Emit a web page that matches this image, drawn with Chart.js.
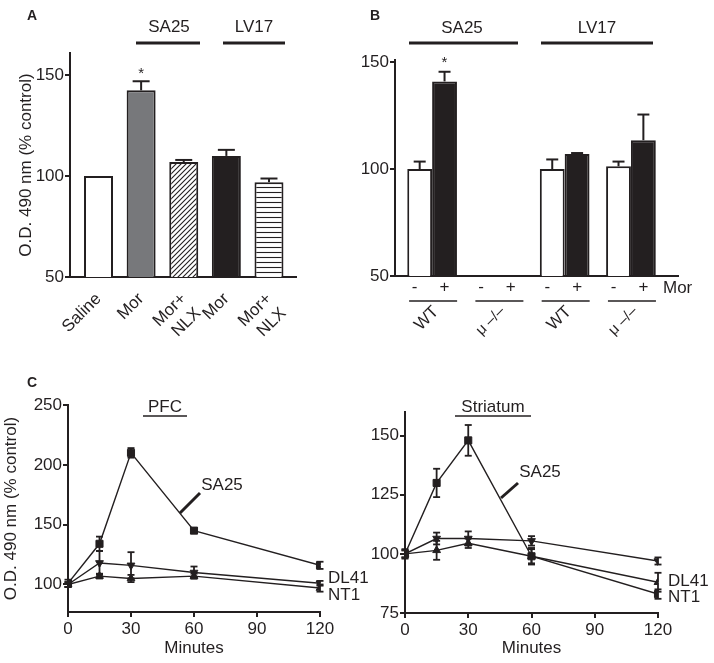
<!DOCTYPE html>
<html>
<head>
<meta charset="utf-8">
<script src="https://cdn.jsdelivr.net/npm/chart.js@4.4.0/dist/chart.umd.min.js"></script>
<style>
  html, body { margin: 0; padding: 0; background: #fff; }
  #wrap { position: relative; width: 714px; height: 663px; overflow: hidden; }
  canvas { position: absolute; }
</style>
</head>
<body>
<div id="wrap">
  <canvas id="chartA" width="360" height="345" style="left:0;top:0"></canvas>
  <canvas id="chartB" width="354" height="345" style="left:360px;top:0"></canvas>
  <canvas id="chartPfc" width="372" height="293" style="left:0;top:370px"></canvas>
  <canvas id="chartStr" width="354" height="293" style="left:360px;top:370px"></canvas>
</div>
<script>
"use strict";

// ---- data ----
// A: O.D. 490 nm (% control)
const aLabels = ['Saline', 'Mor', ['Mor+', 'NLX'], 'Mor', ['Mor+', 'NLX']];
const aPositions = [1, 2, 3, 4, 5];
const aValues = [100, 142.5, 107, 110, 97];
const aErrors = [0, 4.5, 1, 3, 1.8];
const aTicks = [50, 100, 150];

// B: pairs WT / mu-/- for SA25 and LV17, without (-) and with (+) morphine
const bGroups = [1, 2, 3, 4];
const bGenotypes = ['WT', 'μ –/–', 'WT', 'μ –/–'];
const bNoMor = [100, null, 100, 101.3];
const bNoMorErr = [3.5, null, 4.5, 2.2];
const bMor = [141, null, 107, 113.5];
const bMorErr = [4.5, null, 0.5, 12];
const bTicks = [50, 100, 150];

// C: time courses
const minutes = [0, 15, 30, 60, 120];
const minuteTicks = [0, 30, 60, 90, 120];
const pfcSA25 = [101, 134, 210, 145, 116];
const pfcSA25Err = [3, 6, 4, 2, 3];
const pfcDL41 = [100, 118, 116, 110, 101];
const pfcDL41Err = [2, 10, 11, 5, 2];
const pfcNT1 = [100, 107, 105, 107, 97];
const pfcNT1Err = [2, 2, 3, 2, 3];
const pfcTicks = [100, 150, 200, 250];

const strSA25 = [100, 130, 148, 99, 83];
const strSA25Err = [2, 6, 6.5, 3.5, 2];
const strDL41 = [100, 106.5, 106.5, 105.5, 97];
const strDL41Err = [1.5, 2.5, 3, 2, 1.5];
const strNT1 = [100, 101.5, 104.5, 99, 88];
const strNT1Err = [1.5, 4, 2, 3, 4];
const strTicks = [75, 100, 125, 150];

// ---- look ----
const INK = '#231f20';
const FONT = "'Liberation Sans', Arial, Helvetica, sans-serif";

Chart.defaults.font.family = FONT;
Chart.defaults.font.size = 17;
Chart.defaults.color = INK;
Chart.defaults.animation = false;
Chart.defaults.plugins.legend.display = false;
Chart.defaults.plugins.tooltip.enabled = false;

function fixWidth(w) { return (scale) => { scale.width = w; }; }
function fixHeight(h) { return (scale) => { scale.height = h; }; }
function useTicks(values) { return (scale) => { scale.ticks = values.map(v => ({ value: v })); }; }

function label(ctx, str, x, y, align, size, bold) {
    ctx.font = (bold ? 'bold ' : '') + (size || 17) + 'px ' + FONT;
    ctx.fillStyle = INK;
    ctx.textAlign = align || 'center';
    ctx.textBaseline = 'middle';
    ctx.fillText(str, x, y);
}

function rule(ctx, x1, y1, x2, y2, w) {
    ctx.strokeStyle = INK;
    ctx.lineWidth = w;
    ctx.lineCap = 'butt';
    ctx.beginPath();
    ctx.moveTo(x1, y1);
    ctx.lineTo(x2, y2);
    ctx.stroke();
}

function whisker(ctx, x, from, to, cap, w) {
    rule(ctx, x, from, x, to, w);
    rule(ctx, x - cap / 2, to, x + cap / 2, to, w);
}

function hatch(canvasId, kind) {
    const c = document.createElement('canvas');
    const s = 5;
    c.width = s; c.height = s;
    const g = c.getContext('2d');
    g.fillStyle = '#fff';
    g.fillRect(0, 0, s, s);
    g.strokeStyle = INK;
    g.lineWidth = 1.1;
    g.beginPath();
    if (kind === 'diag') {
        g.moveTo(-1, s + 1); g.lineTo(s + 1, -1);
        g.moveTo(-2, 2); g.lineTo(2, -2);
        g.moveTo(s - 2, s + 2); g.lineTo(s + 2, s - 2);
    } else {
        g.moveTo(0, 2.5); g.lineTo(s, 2.5);
    }
    g.stroke();
    return document.getElementById(canvasId).getContext('2d').createPattern(c, 'repeat');
}

// y axis with outward tick marks
function valueAxis(min, max, ticks, width, title, titlePad) {
    return {
        min: min, max: max,
        afterBuildTicks: useTicks(ticks),
        afterFit: fixWidth(width),
        border: { display: true, color: INK, width: 2 },
        grid: { display: true, drawOnChartArea: false, drawTicks: true, tickLength: 5, color: INK, lineWidth: 2 },
        ticks: { padding: 1, color: INK },
        title: { display: !!title, text: title, color: INK, font: { size: 17 }, padding: { top: titlePad || 0 } }
    };
}

// ---- A ----
const aNotes = {
    id: 'aNotes',
    afterDatasetsDraw(chart) {
        const ctx = chart.ctx, y = chart.scales.y;
        chart.getDatasetMeta(0).data.forEach((bar, i) => {
            if (!aErrors[i]) return;
            const top = y.getPixelForValue(aValues[i] + aErrors[i]);
            whisker(ctx, bar.x, bar.y, top, 17, 2);
            if (i === 1) label(ctx, '*', bar.x, top - 7, 'center', 15);
        });
    },
    afterDraw(chart) {
        const ctx = chart.ctx;
        label(ctx, 'A', 27, 16, 'left', 14, true);
        label(ctx, 'SA25', 169, 27);
        rule(ctx, 136, 43, 200, 43, 3);
        label(ctx, 'LV17', 254, 27);
        rule(ctx, 223, 43, 285, 43, 3);
    }
};

new Chart(document.getElementById('chartA'), {
    type: 'bar',
    data: {
        datasets: [{
            data: aPositions.map((p, i) => ({ x: p, y: aValues[i] })),
            backgroundColor: ['#fff', '#77787b', hatch('chartA', 'diag'), INK, hatch('chartA', 'horiz')],
            borderColor: INK,
            borderWidth: 2,
            categoryPercentage: 0.68,
            barPercentage: 1
        }]
    },
    options: {
        responsive: false,
        devicePixelRatio: 1,
        layout: { padding: { top: 53, right: 64, left: 0, bottom: 0 } },
        scales: {
            x: {
                type: 'linear', min: 0.331, max: 5.634, offset: false,
                afterBuildTicks: useTicks(aPositions),
                afterFit: fixHeight(68),
                grid: { display: false },
                border: { display: true, color: INK, width: 2 },
                ticks: {
                    autoSkip: false, minRotation: 45, maxRotation: 45, padding: 4, color: INK,
                    callback: (v, i) => aLabels[i]
                }
            },
            y: valueAxis(50, 161, aTicks, 70, 'O.D. 490 nm (% control)', 16)
        }
    },
    plugins: [aNotes]
});

// ---- B ----
const bNotes = {
    id: 'bNotes',
    afterDatasetsDraw(chart) {
        const ctx = chart.ctx, y = chart.scales.y;
        [[bNoMor, bNoMorErr], [bMor, bMorErr]].forEach(([vals, errs], d) => {
            chart.getDatasetMeta(d).data.forEach((bar, i) => {
                if (vals[i] === null) return;
                const top = y.getPixelForValue(vals[i] + errs[i]);
                whisker(ctx, bar.x, bar.y, top, 12, 2);
                if (d === 1 && i === 0) label(ctx, '*', bar.x, top - 9, 'center', 15);
            });
        });
    },
    afterDraw(chart) {
        const ctx = chart.ctx, x = chart.scales.x;
        const ref = chart.getDatasetMeta(0).data[0];
        const half = ref.width / 2;
        bGroups.forEach((g, i) => {
            const c = x.getPixelForValue(g);
            label(ctx, '-', c - half - 5, 287);
            label(ctx, '+', c + half, 287);
            rule(ctx, c - 23, 301, c + 25, 301, 1.5);
            ctx.save();
            ctx.translate(c + 4, 309);
            ctx.rotate(-Math.PI / 4);
            label(ctx, bGenotypes[i], 0, 0, 'right', i % 2 ? 15 : 17);
            ctx.restore();
        });
        ctx.save();
        ctx.translate(-360, 0);
        label(ctx, 'Mor', 663, 288, 'left');
        label(ctx, 'B', 370, 16, 'left', 14, true);
        label(ctx, 'SA25', 462, 28);
        rule(ctx, 409, 43, 518, 43, 3);
        label(ctx, 'LV17', 597, 28);
        rule(ctx, 541, 43, 653, 43, 3);
        ctx.restore();
    }
};

new Chart(document.getElementById('chartB'), {
    type: 'bar',
    data: {
        datasets: [
            {
                data: bGroups.map((g, i) => ({ x: g, y: bNoMor[i] })),
                backgroundColor: '#fff', borderColor: INK, borderWidth: 2,
                categoryPercentage: 0.75, barPercentage: 1
            },
            {
                data: bGroups.map((g, i) => ({ x: g, y: bMor[i] })),
                backgroundColor: INK, borderColor: INK, borderWidth: 2,
                categoryPercentage: 0.75, barPercentage: 1
            }
        ]
    },
    options: {
        responsive: false,
        devicePixelRatio: 1,
        layout: { padding: { top: 60, right: 36, left: 0, bottom: 0 } },
        scales: {
            x: {
                type: 'linear', min: 0.44, max: 4.71, offset: false,
                afterBuildTicks: useTicks(bGroups),
                afterFit: fixHeight(69),
                grid: { display: false },
                border: { display: true, color: INK, width: 2 },
                ticks: { display: false }
            },
            y: valueAxis(50, 151, bTicks, 35)
        }
    },
    plugins: [bNotes]
});

// ---- C ----
function series(values, style, rotation, radius) {
    return {
        data: minutes.map((m, i) => ({ x: m, y: values[i] })),
        borderColor: INK, borderWidth: 1.4,
        backgroundColor: INK,
        pointBackgroundColor: INK, pointBorderColor: INK, pointBorderWidth: 1,
        pointStyle: style, pointRotation: rotation, pointRadius: radius,
        tension: 0, fill: false
    };
}

function errorPlugin(id, errs) {
    return {
        id: id,
        afterDatasetsDraw(chart) {
            const ctx = chart.ctx, y = chart.scales.y;
            chart.data.datasets.forEach((ds, d) => {
                chart.getDatasetMeta(d).data.forEach((pt, i) => {
                    const v = ds.data[i].y, e = errs[d][i];
                    const hi = y.getPixelForValue(v + e), lo = y.getPixelForValue(v - e);
                    whisker(ctx, pt.x, pt.y, hi, 7, 1.8);
                    whisker(ctx, pt.x, pt.y, lo, 7, 1.8);
                });
            });
        }
    };
}

function timeOptions(yMin, yMax, yTicks, yWidth, pad, xHeight, title) {
    return {
        responsive: false,
        devicePixelRatio: 1,
        layout: { padding: pad },
        scales: {
            x: {
                type: 'linear', min: 0, max: 120,
                afterBuildTicks: useTicks(minuteTicks),
                afterFit: fixHeight(xHeight),
                border: { display: true, color: INK, width: 2 },
                grid: { display: true, drawOnChartArea: false, drawTicks: true, tickLength: 5, color: INK, lineWidth: 2 },
                ticks: { padding: 2, color: INK },
                title: { display: true, text: 'Minutes', color: INK, font: { size: 17 }, padding: { bottom: 4 } }
            },
            y: valueAxis(yMin, yMax, yTicks, yWidth, title, 1)
        }
    };
}

const pfcNotes = {
    id: 'pfcNotes',
    afterDraw(chart) {
        const ctx = chart.ctx;
        ctx.save();
        ctx.translate(0, -370);
        label(ctx, 'C', 27, 383, 'left', 14, true);
        label(ctx, 'PFC', 165, 407);
        rule(ctx, 143, 416, 187, 416, 1.5);
        label(ctx, 'SA25', 222, 485);
        rule(ctx, 180, 513, 200, 493, 3);
        label(ctx, 'DL41', 328, 578, 'left');
        label(ctx, 'NT1', 328, 595, 'left');
        ctx.restore();
    }
};

new Chart(document.getElementById('chartPfc'), {
    type: 'line',
    data: {
        datasets: [
            series(pfcSA25, 'rect', 0, 5),
            series(pfcDL41, 'triangle', 180, 4.5),
            series(pfcNT1, 'triangle', 0, 4.5)
        ]
    },
    options: timeOptions(77, 250, pfcTicks, 68, { top: 35, right: 52, left: 0, bottom: 0 }, 51, 'O.D. 490 nm (% control)'),
    plugins: [errorPlugin('pfcErr', [pfcSA25Err, pfcDL41Err, pfcNT1Err]), pfcNotes]
});

const strNotes = {
    id: 'strNotes',
    afterDraw(chart) {
        const ctx = chart.ctx;
        ctx.save();
        ctx.translate(-360, -370);
        label(ctx, 'Striatum', 493, 407);
        rule(ctx, 455, 416, 531, 416, 1.5);
        label(ctx, 'SA25', 540, 472);
        rule(ctx, 501, 498, 518, 483, 3);
        label(ctx, 'DL41', 668, 581, 'left');
        label(ctx, 'NT1', 668, 597, 'left');
        ctx.restore();
    }
};

new Chart(document.getElementById('chartStr'), {
    type: 'line',
    data: {
        datasets: [
            series(strSA25, 'rect', 0, 5),
            series(strDL41, 'triangle', 180, 4.5),
            series(strNT1, 'triangle', 0, 4.5)
        ]
    },
    options: timeOptions(75, 160, strTicks, 45, { top: 42, right: 56, left: 0, bottom: 0 }, 50, ''),
    plugins: [errorPlugin('strErr', [strSA25Err, strDL41Err, strNT1Err]), strNotes]
});
</script>
</body>
</html>
